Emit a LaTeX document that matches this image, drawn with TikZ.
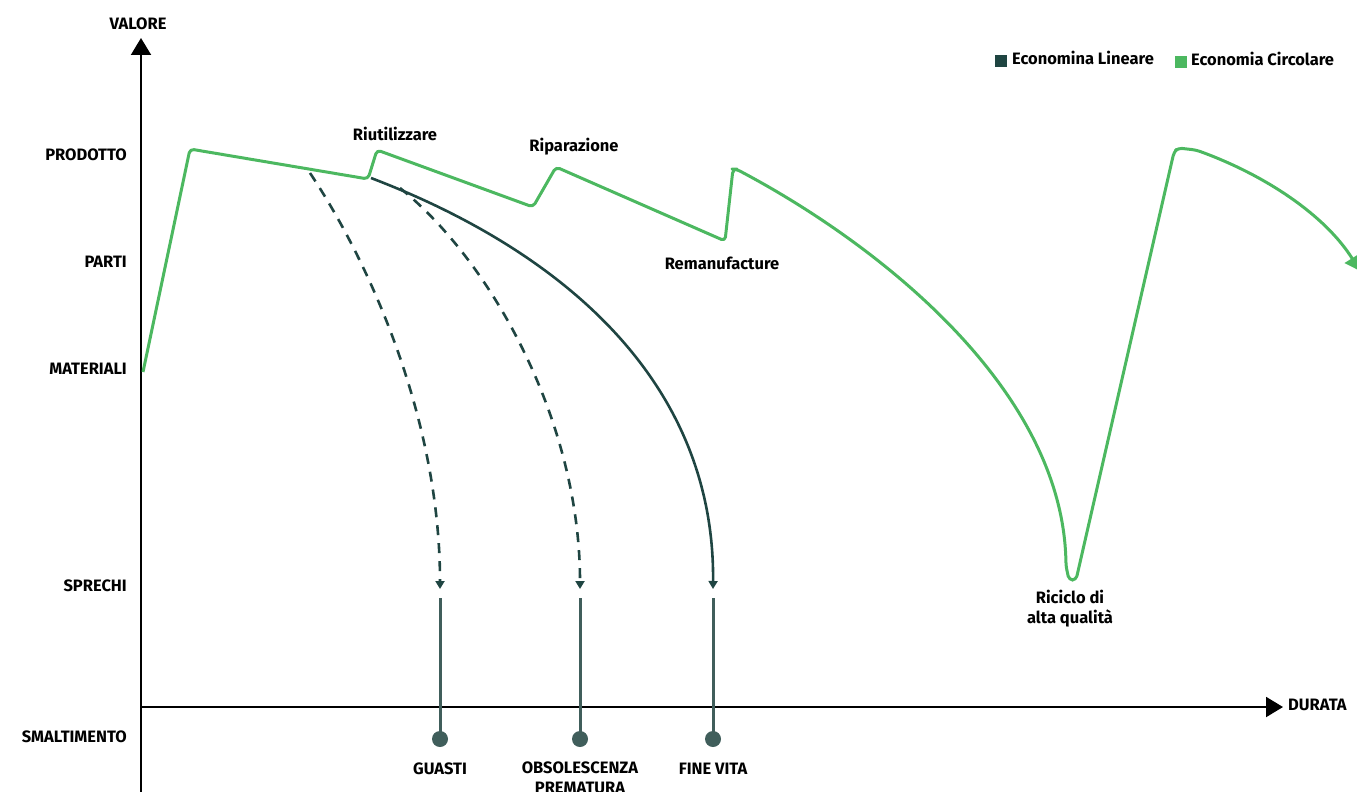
\documentclass[tikz,border=0pt]{standalone}
\usepackage{fontspec}
\setmainfont{Fira Sans}
\usetikzlibrary{arrows.meta}
\definecolor{cgreen}{HTML}{4CB860}
\definecolor{cdark}{HTML}{1F4542}
\definecolor{cgrey}{HTML}{405E5B}
\begin{document}
\begin{tikzpicture}[x=1pt,y=-1pt,
  lbl/.style={inner sep=0pt, font=\bfseries\fontsize{16.5}{20}\selectfont, text=black},
  axisline/.style={line width=2pt, black},
  bigtip/.style={-{Triangle[width=20pt,length=17pt]}},
  greenline/.style={cgreen, line width=3pt, rounded corners=4pt, line join=round},
  darkline/.style={cdark, line width=2.6pt},
  dashline/.style={darkline, dash pattern=on 10pt off 8pt},
  smalltip/.style={-{Triangle[width=9pt,length=8pt]}},
  dropline/.style={cgrey, line width=3pt},
  enddot/.style={circle, fill=cgrey, inner sep=0pt, minimum size=16pt},
  legbox/.style={inner sep=0pt, minimum size=12pt}
]
\useasboundingbox (0,0) rectangle (1357,792);

% axes
\coordinate (ybot) at (141,792);
\coordinate (ytop) at (141,38);
\coordinate (xstart) at (141,707);
\coordinate (xend) at (1283,707);
\draw[axisline,bigtip] (ybot) -- (ytop);
\draw[axisline,bigtip] (xstart) -- (xend);

\node[lbl] (valore) at (138,24) {VALORE};
\node[lbl,anchor=mid west] (durata) at (1288,708) {DURATA};
\node[lbl,anchor=mid east] (prodotto) at (127,158) {PRODOTTO};
\node[lbl,anchor=mid east] (parti) at (127,265) {PARTI};
\node[lbl,anchor=mid east] (materiali) at (127,372) {MATERIALI};
\node[lbl,anchor=mid east] (sprechi) at (127,589) {SPRECHI};
\node[lbl,anchor=mid east] (smalt) at (127,740) {SMALTIMENTO};

% legend
\node[legbox, fill=cdark] (leglin) at (1001,61) {};
\node[lbl,anchor=mid west] (leglintxt) at (1012,62) {Economina Lineare};
\node[legbox, fill=cgreen] (legcirc) at (1181,62) {};
\node[lbl,anchor=mid west] (legcirctxt) at (1191,63) {Economia Circolare};

% circular economy curve
\draw[greenline,-{Triangle[width=17pt,length=15pt]}]
  (143,372) -- (190,149) -- (368,179) -- (377,150) -- (533,207) -- (556,167)
  -- (725,241) -- (733,169) -- (736,169)
  .. controls (880,245) and (1063,390) .. (1066,566)
  -- (1069,580) -- (1076,580) -- (1174,152) -- (1178,148) -- (1196,150)
  .. controls (1265,175) and (1325,215) .. (1360,271);

% linear economy curves
\coordinate (f0) at (371,178);
\coordinate (f1) at (713,589);
\coordinate (g0) at (310,173);
\coordinate (g1) at (440,589);
\coordinate (o0) at (400,188);
\coordinate (o1) at (580,589);
\draw[darkline,smalltip] (f0) .. controls (560,250) and (715,380) .. (f1);
\draw[dashline,smalltip] (g0) .. controls (370,263) and (440,420) .. (g1);
\draw[dashline,smalltip] (o0) .. controls (490,260) and (580,420) .. (o1);

% drop lines
\coordinate (gt) at (440,598);
\coordinate (ot) at (580,598);
\coordinate (ft) at (713,598);
\node[enddot] (gd) at (440,739) {};
\node[enddot] (od) at (580,739) {};
\node[enddot] (fd) at (713,739) {};
\draw[dropline] (gt) -- (gd.center);
\draw[dropline] (ot) -- (od.center);
\draw[dropline] (ft) -- (fd.center);

\node[lbl] (guasti) at (440,769) {GUASTI};
\node[lbl,align=center,anchor=north] (obso) at (580,762) {OBSOLESCENZA\\PREMATURA};
\node[lbl] (finevita) at (713,769) {FINE VITA};

% stage labels
\node[lbl] (riut) at (395,134) {Riutilizzare};
\node[lbl] (ripa) at (574,147) {Riparazione};
\node[lbl] (reman) at (722,263) {Remanufacture};
\node[lbl,align=center,anchor=north] (ricic) at (1070,590) {Riciclo di\\alta qualità};
\end{tikzpicture}
\end{document}
